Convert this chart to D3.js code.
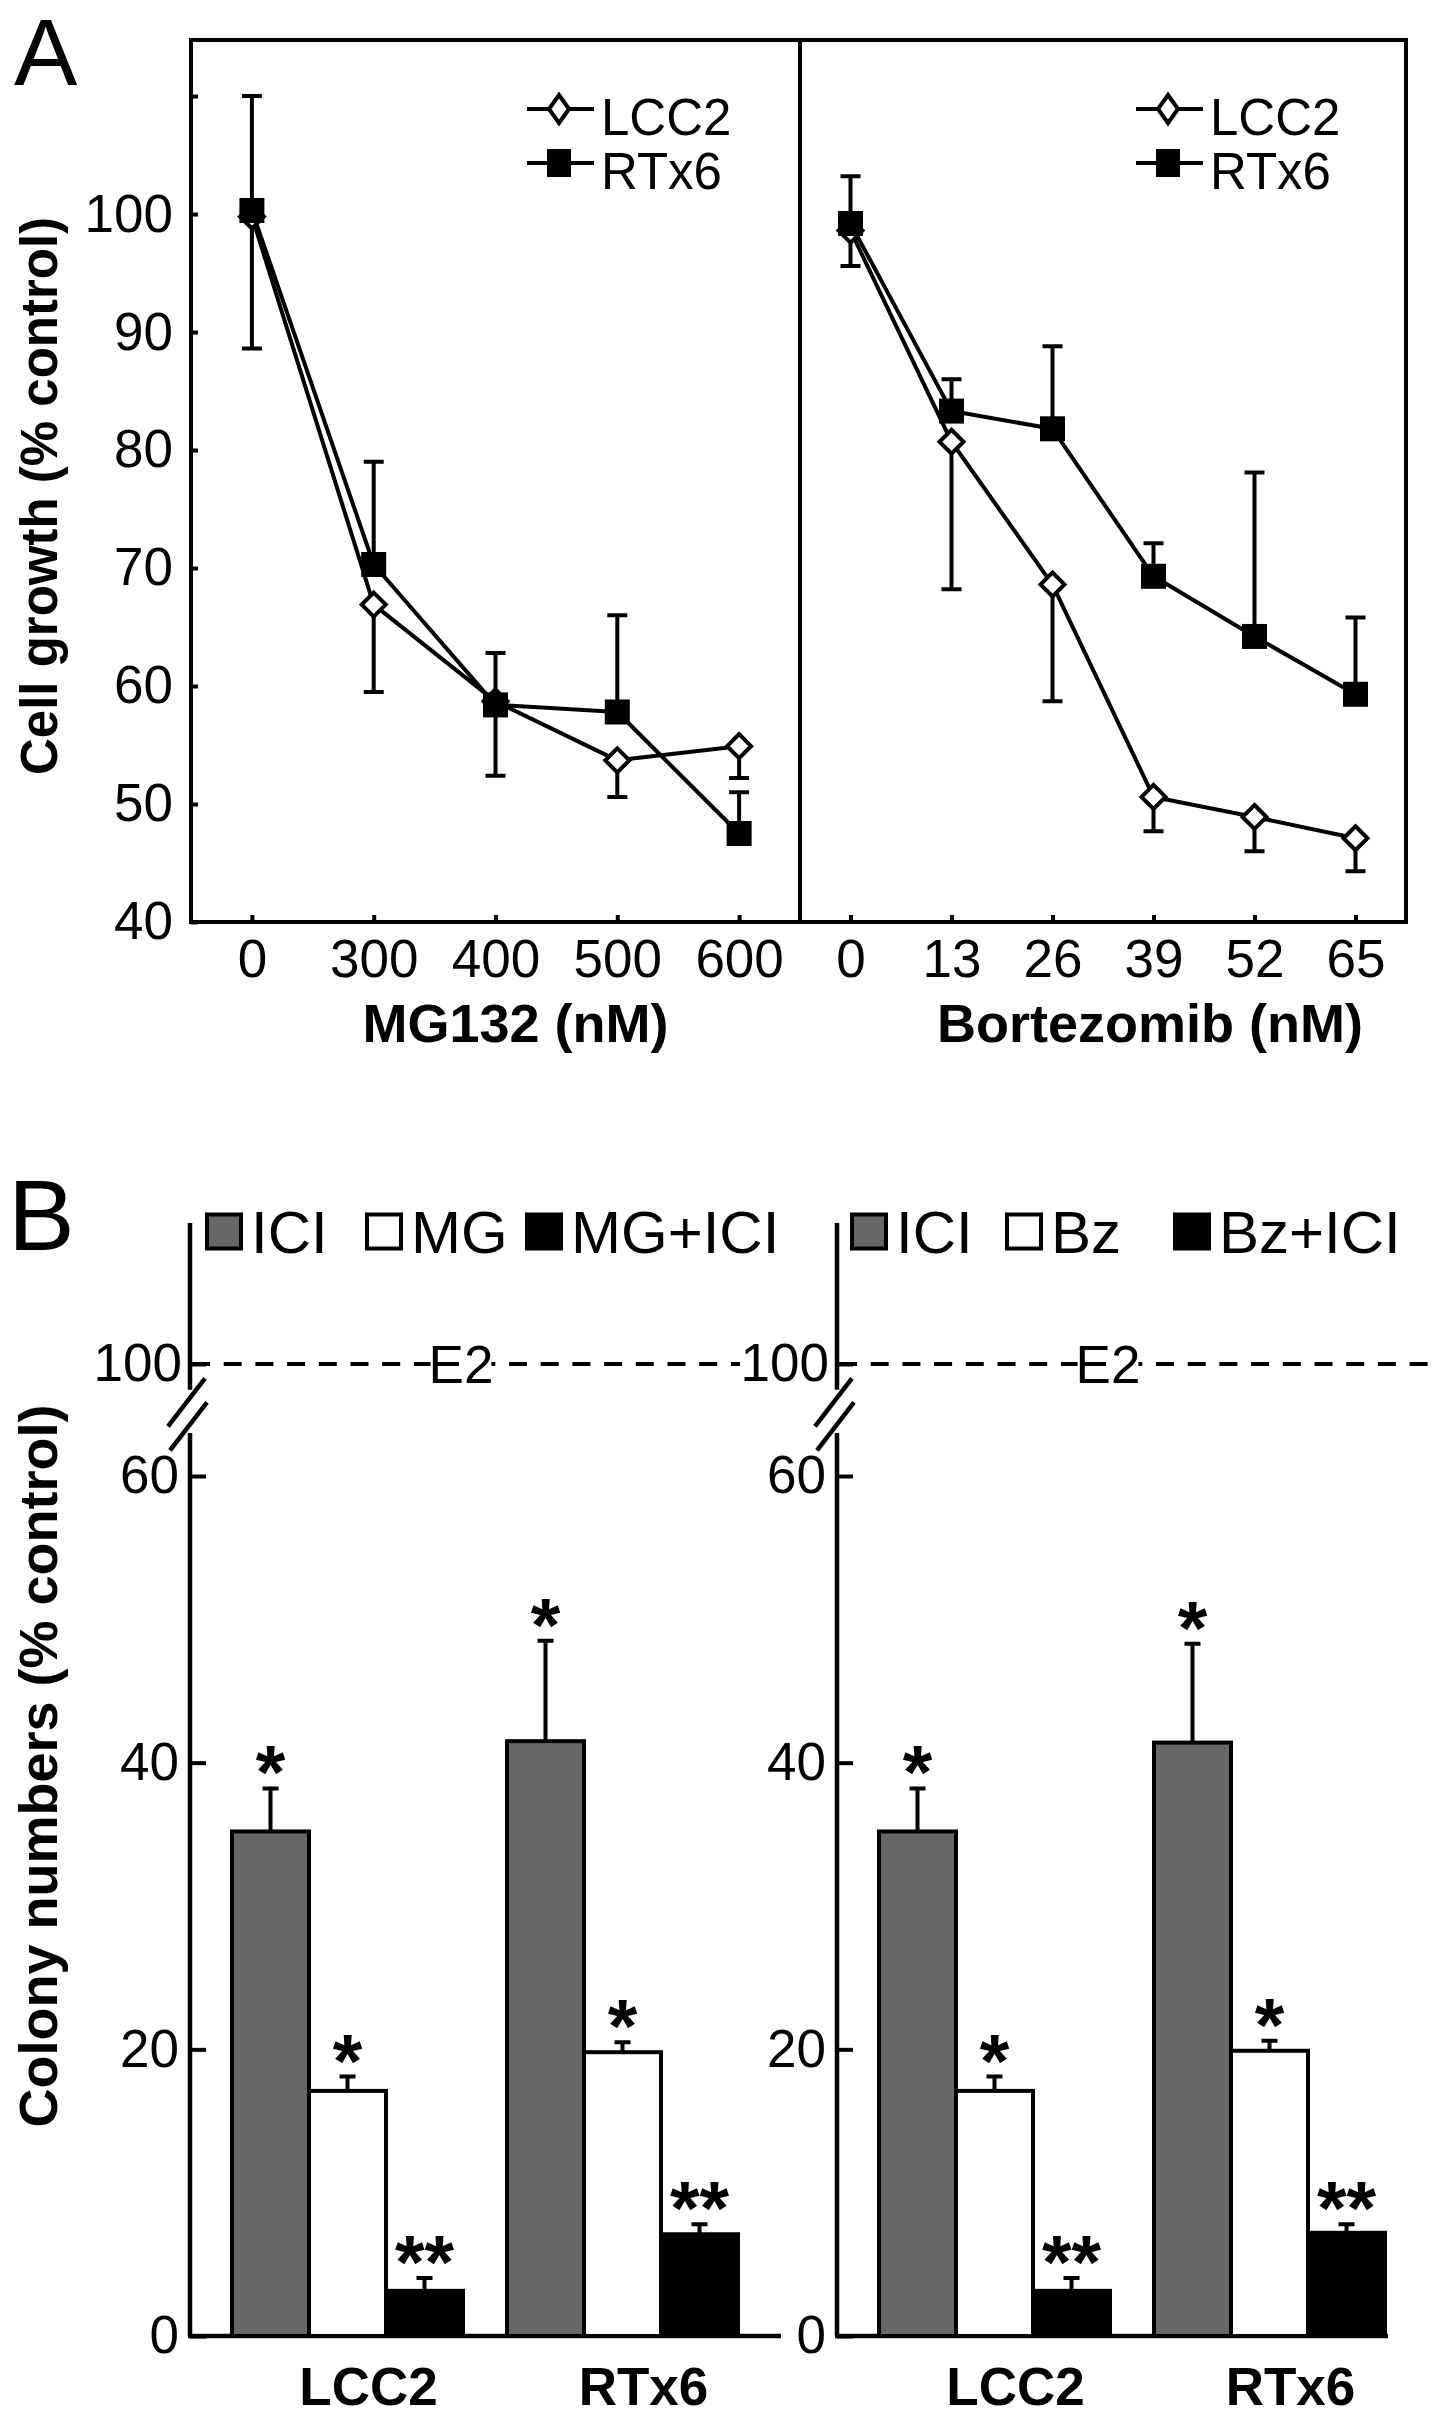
<!DOCTYPE html>
<meta charset="UTF-8">
<style>
  body { margin: 0; background: #fff; }
  svg text { font-family: "Liberation Sans", Arial, sans-serif; fill: #000; }
  .axis path.domain { display: none; }
  .axis line { stroke: #000; stroke-width: 4px; }
  .axis text { font-size: 53px; }
</style>
<body>
<script src="https://cdn.jsdelivr.net/npm/d3@7"></script>
<script>

// ---- panel A: cell growth (% control) ----
var mgDoses  = ["0", "300", "400", "500", "600"];
var mgLCC2   = [99.8, 66.9, 58.7, 53.7, 54.9];
var mgLCC2Err = [11.2, 7.4, 6.3, 3.1, 2.7];   // drawn downward
var mgRTx6   = [100.3, 70.3, 58.4, 57.8, 47.5];
var mgRTx6Err = [9.7, 8.7, 4.4, 8.2, 3.5];    // drawn upward

var bzDoses  = ["0", "13", "26", "39", "52", "65"];
var bzLCC2   = [98.6, 80.7, 68.6, 50.6, 48.9, 47.1];
var bzLCC2Err = [3.0, 12.5, 9.9, 2.9, 2.9, 2.8];
var bzRTx6   = [99.2, 83.3, 81.8, 69.3, 64.2, 59.3];
var bzRTx6Err = [4.0, 2.7, 7.0, 2.8, 13.9, 6.5];

var growthTicks = [40, 50, 60, 70, 80, 90, 100, 110];
var lineSeries = ["LCC2", "RTx6"];

// ---- panel B: colony numbers (% control) ----
var cellLines = ["LCC2", "RTx6"];
var mgTreat = ["ICI", "MG", "MG+ICI"];
var bzTreat = ["ICI", "Bz", "Bz+ICI"];
var mgColony    = [[35.2, 17.1, 3.15], [41.5, 19.8, 7.1]];
var mgColonyErr = [[3.0, 1.0, 0.9], [7.0, 0.7, 0.7]];
var bzColony    = [[35.2, 17.1, 3.15], [41.4, 19.9, 7.2]];
var bzColonyErr = [[3.0, 1.0, 0.9], [6.9, 0.7, 0.6]];
var signif = [["*", "*", "**"], ["*", "*", "**"]];
var colonyTicks = [0, 20, 40, 60];
var barFills = ["#676767", "#ffffff", "#000000"];

var W = 1441, H = 2422;
var svg = d3.select("body").append("svg")
    .attr("width", W)
    .attr("height", H);

// ******************* Panel A *******************
svg.append("text").attr("x", 14).attr("y", 85)
    .style("font-size", "95px").text("A");

var boxTop = 40, boxBottom = 922;
var yA = d3.scaleLinear().domain([40, 114.75]).range([boxBottom, boxTop]);

var panelsA = [
  {doses: mgDoses, lcc2: mgLCC2, lcc2Err: mgLCC2Err, rtx6: mgRTx6, rtx6Err: mgRTx6Err,
   x0: 191, x1: 800, title: "MG132 (nM)", titleShift: 20, yAxis: true},
  {doses: bzDoses, lcc2: bzLCC2, lcc2Err: bzLCC2Err, rtx6: bzRTx6, rtx6Err: bzRTx6Err,
   x0: 800, x1: 1406, title: "Bortezomib (nM)", titleShift: 47, yAxis: false}
];

panelsA.forEach(function(p) {
  var x = d3.scalePoint().domain(p.doses).range([p.x0, p.x1]).padding(0.5);
  var g = svg.append("g");

  g.append("g").attr("class", "axis")
      .attr("transform", "translate(0," + boxBottom + ")")
      .call(d3.axisBottom(x).tickSize(-7).tickPadding(17));

  if (p.yAxis) {
    g.append("g").attr("class", "axis")
        .attr("transform", "translate(" + p.x0 + ",0)")
        .call(d3.axisLeft(yA).tickValues(growthTicks).tickSize(-7).tickPadding(18)
          .tickFormat(function(d) { return d > 100 ? "" : d; }));
  }

  g.append("rect")
      .attr("x", p.x0).attr("y", boxTop)
      .attr("width", p.x1 - p.x0).attr("height", boxBottom - boxTop)
      .attr("fill", "none").attr("stroke", "#000").attr("stroke-width", 4);

  g.append("text")
      .attr("x", (p.x0 + p.x1) / 2 + p.titleShift).attr("y", 1042)
      .attr("text-anchor", "middle")
      .style("font-size", "54px").style("font-weight", "bold")
      .text(p.title);

  var idx = d3.range(p.doses.length);
  var line = function(vals) {
    return d3.line().x(function(i) { return x(p.doses[i]); })
                    .y(function(i) { return yA(vals[i]); })(idx);
  };
  [p.lcc2, p.rtx6].forEach(function(vals) {
    g.append("path").attr("d", line(vals))
        .attr("fill", "none").attr("stroke", "#000").attr("stroke-width", 4)
        .attr("stroke-linejoin", "round");
  });

  // error bars: RTx6 upward, LCC2 downward
  function errBars(vals, errs, dir) {
    g.selectAll(null).data(idx).enter().append("path")
        .attr("d", function(i) {
          var cx = x(p.doses[i]), y0 = yA(vals[i]), y1 = yA(vals[i] + dir * errs[i]);
          return "M" + cx + "," + y0 + "V" + y1 + "M" + (cx - 10) + "," + y1 + "H" + (cx + 10);
        })
        .attr("fill", "none").attr("stroke", "#000").attr("stroke-width", 4);
  }
  errBars(p.rtx6, p.rtx6Err, 1);
  errBars(p.lcc2, p.lcc2Err, -1);

  g.selectAll(null).data(idx).enter().append("path")
      .attr("d", function(i) {
        var cx = x(p.doses[i]), cy = yA(p.lcc2[i]), r = 12;
        return "M" + cx + "," + (cy - r) + "L" + (cx + r) + "," + cy + "L" + cx + "," + (cy + r) + "L" + (cx - r) + "," + cy + "Z";
      })
      .attr("fill", "#fff").attr("stroke", "#000").attr("stroke-width", 4);

  g.selectAll(null).data(idx).enter().append("rect")
      .attr("x", function(i) { return x(p.doses[i]) - 12.5; })
      .attr("y", function(i) { return yA(p.rtx6[i]) - 12.5; })
      .attr("width", 25).attr("height", 25)
      .attr("fill", "#000");

  // legend
  var lx = p.x0 + 368;
  lineSeries.forEach(function(s, k) {
    var ly = 109 + k * 54;
    g.append("line").attr("x1", lx - 32).attr("x2", lx + 35)
        .attr("y1", ly).attr("y2", ly)
        .attr("stroke", "#000").attr("stroke-width", 4);
    if (k === 0) {
      g.append("path")
          .attr("d", "M" + lx + "," + (ly - 14) + "L" + (lx + 10) + "," + ly + "L" + lx + "," + (ly + 14) + "L" + (lx - 10) + "," + ly + "Z")
          .attr("fill", "#fff").attr("stroke", "#000").attr("stroke-width", 4);
    } else {
      g.append("rect").attr("x", lx - 12).attr("y", ly - 14)
          .attr("width", 24).attr("height", 28).attr("fill", "#000");
    }
    g.append("text").attr("x", lx + 42).attr("y", ly + 26)
        .style("font-size", "51px").text(s);
  });
});

svg.append("text")
    .attr("transform", "translate(57,496) rotate(-90)")
    .attr("text-anchor", "middle")
    .style("font-size", "51px").style("font-weight", "bold")
    .text("Cell growth (% control)");

// ******************* Panel B *******************
svg.append("text").attr("x", 8).attr("y", 1250)
    .style("font-size", "100px").text("B");

var yB = d3.scaleLinear().domain([0, 60]).range([2336, 1476]);
var yBTop = d3.scaleLinear().domain([100, 110]).range([1364, 1221]);

var panelsB = [
  {ax: 190, axEnd: 781, dashEnd: 740, treat: mgTreat, vals: mgColony, errs: mgColonyErr,
   legendX: [34, 194, 354]},
  {ax: 837, axEnd: 1388, dashEnd: 1430, treat: bzTreat, vals: bzColony, errs: bzColonyErr,
   legendX: [32, 187, 355]}
];

panelsB.forEach(function(p) {
  var g = svg.append("g");
  var x0 = d3.scaleBand().domain(cellLines).range([p.ax + 42, p.ax + 548]).paddingInner(0.16);
  var x1 = d3.scaleBand().domain(p.treat).range([0, x0.bandwidth()]);

  // broken y axis
  g.append("line").attr("x1", p.ax).attr("x2", p.ax)
      .attr("y1", yBTop(110) + 2).attr("y2", yBTop(98.2))
      .attr("stroke", "#000").attr("stroke-width", 4.5);
  g.append("line").attr("x1", p.ax).attr("x2", p.ax)
      .attr("y1", yB(63)).attr("y2", yB(0))
      .attr("stroke", "#000").attr("stroke-width", 4.5);
  [0, 24].forEach(function(dy) {
    var y0 = yBTop(99) + dy;
    g.append("line")
        .attr("x1", p.ax + 15 + dy / 12).attr("y1", y0)
        .attr("x2", p.ax - 22 + dy / 12).attr("y2", y0 + 48)
        .attr("stroke", "#000").attr("stroke-width", 4.5);
  });

  g.append("g").attr("class", "axis")
      .attr("transform", "translate(" + p.ax + ",0)")
      .call(d3.axisLeft(yB).tickValues(colonyTicks).tickSize(-16).tickPadding(11));
  g.append("g").attr("class", "axis")
      .attr("transform", "translate(" + p.ax + ",0)")
      .call(d3.axisLeft(yBTop).tickValues([100]).tickSize(-16).tickPadding(8));

  // x axis
  g.append("line").attr("x1", p.ax - 2).attr("x2", p.axEnd)
      .attr("y1", yB(0)).attr("y2", yB(0))
      .attr("stroke", "#000").attr("stroke-width", 4.5);

  // E2 reference at 100
  g.append("line").attr("x1", p.ax + 2).attr("x2", p.dashEnd)
      .attr("y1", yBTop(100)).attr("y2", yBTop(100))
      .attr("stroke", "#000").attr("stroke-width", 4)
      .attr("stroke-dasharray", "18,13.7");
  var e2 = g.append("text").attr("x", p.ax + 271).attr("y", yBTop(100) + 19)
      .attr("text-anchor", "middle").style("font-size", "53px").text("E2");
  var bb = e2.node().getBBox();
  g.insert("rect", function() { return e2.node(); })
      .attr("x", bb.x + 2).attr("y", yBTop(100) - 4)
      .attr("width", bb.width - 4).attr("height", 8).attr("fill", "#fff");

  // bars
  cellLines.forEach(function(c, gi) {
    var gg = g.append("g").attr("transform", "translate(" + x0(c) + ",0)");
    p.treat.forEach(function(t, ti) {
      var v = p.vals[gi][ti], e = p.errs[gi][ti];
      var bx = x1(t), cx = bx + x1.bandwidth() / 2;
      gg.append("path")
          .attr("d", "M" + cx + "," + yB(v) + "V" + yB(v + e) + "M" + (cx - 8) + "," + yB(v + e) + "H" + (cx + 8))
          .attr("fill", "none").attr("stroke", "#000").attr("stroke-width", 4);
      gg.append("rect")
          .attr("x", bx).attr("y", yB(v))
          .attr("width", x1.bandwidth()).attr("height", yB(0) - yB(v))
          .attr("fill", barFills[ti]).attr("stroke", "#000").attr("stroke-width", 4);
      gg.append("text")
          .attr("x", cx).attr("y", yB(v + e) + 10)
          .attr("text-anchor", "middle")
          .style("font-size", "76px").style("font-weight", "bold")
          .text(signif[gi][ti]);
    });
    g.append("text")
        .attr("x", x0(c) + x0.bandwidth() / 2 + 21).attr("y", 2405)
        .attr("text-anchor", "middle")
        .style("font-size", "53px").style("font-weight", "bold")
        .text(c);
  });

  // legend
  p.treat.forEach(function(t, ti) {
    var lx = p.ax + p.legendX[ti];
    g.append("rect").attr("x", lx - 17).attr("y", 1231.5 - 17)
        .attr("width", 34).attr("height", 34)
        .attr("fill", barFills[ti]).attr("stroke", "#000").attr("stroke-width", 4);
    g.append("text").attr("x", lx + 27).attr("y", 1253)
        .style("font-size", "60px").text(t);
  });
});

svg.append("text")
    .attr("transform", "translate(57,1766) rotate(-90)")
    .attr("text-anchor", "middle")
    .style("font-size", "54px").style("font-weight", "bold")
    .text("Colony numbers (% control)");

</script>
</body>
